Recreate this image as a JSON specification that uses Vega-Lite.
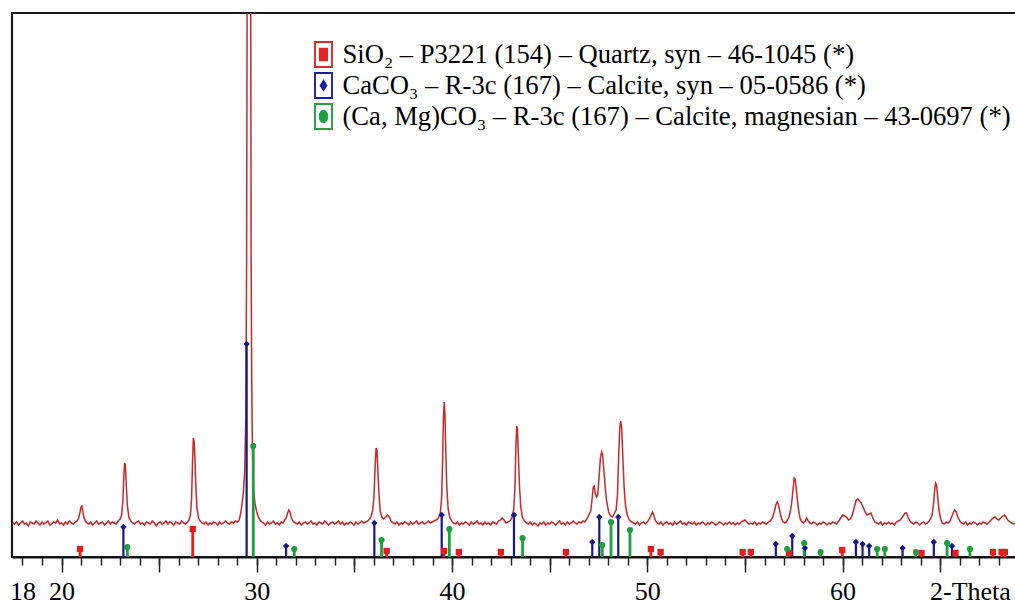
{
  "$schema": "https://vega.github.io/schema/vega-lite/v6.json",
  "width": 1005,
  "height": 544,
  "autosize": {"type": "none"},
  "padding": {"left": 12, "top": 13, "right": 0, "bottom": 48},
  "background": "white",
  "config": {"view": {"stroke": "#1a1a1a", "strokeWidth": 2.2}, "font": "Liberation Serif, Times New Roman, serif",
    "legend": {"labelFont": "Liberation Serif, Times New Roman, serif"}, "axis": {"labelFont": "Liberation Serif, Times New Roman, serif"}},
  "datasets": {
    "pattern": [
      {"t":17.5,"c":34},{"t":17.6,"c":33},{"t":17.7,"c":35},{"t":17.8,"c":32},{"t":17.9,"c":34},{"t":18.0,"c":36},{"t":18.1,"c":33},{"t":18.2,"c":34},{"t":18.3,"c":31},{"t":18.4,"c":35},
      {"t":18.5,"c":34},{"t":18.6,"c":33},{"t":18.7,"c":36},{"t":18.8,"c":34},{"t":18.9,"c":32},{"t":19.0,"c":35},{"t":19.1,"c":33},{"t":19.2,"c":34},{"t":19.3,"c":36},{"t":19.4,"c":32},
      {"t":19.5,"c":33},{"t":19.6,"c":35},{"t":19.7,"c":34},{"t":19.8,"c":37},{"t":19.9,"c":33},{"t":20.0,"c":34},{"t":20.1,"c":32},{"t":20.2,"c":35},{"t":20.3,"c":33},{"t":20.4,"c":36},
      {"t":20.5,"c":34},{"t":20.6,"c":33},{"t":20.7,"c":35},{"t":20.8,"c":36},{"t":20.88,"c":39},{"t":20.95,"c":45},{"t":21.0,"c":50},{"t":21.04,"c":51},{"t":21.08,"c":47},{"t":21.14,"c":40},
      {"t":21.22,"c":36},{"t":21.3,"c":34},{"t":21.4,"c":33},{"t":21.5,"c":35},{"t":21.6,"c":32},{"t":21.7,"c":34},{"t":21.8,"c":36},{"t":21.9,"c":33},{"t":22.0,"c":34},{"t":22.1,"c":35},
      {"t":22.2,"c":32},{"t":22.3,"c":34},{"t":22.4,"c":36},{"t":22.5,"c":33},{"t":22.6,"c":35},{"t":22.7,"c":34},{"t":22.8,"c":33},{"t":22.9,"c":36},{"t":23.0,"c":38},{"t":23.08,"c":42},
      {"t":23.14,"c":55},{"t":23.19,"c":80},{"t":23.23,"c":94},{"t":23.27,"c":92},{"t":23.31,"c":75},{"t":23.37,"c":52},{"t":23.45,"c":40},{"t":23.55,"c":36},{"t":23.65,"c":34},{"t":23.75,"c":33},
      {"t":23.85,"c":35},{"t":23.95,"c":36},{"t":24.05,"c":33},{"t":24.15,"c":34},{"t":24.25,"c":32},{"t":24.35,"c":35},{"t":24.45,"c":34},{"t":24.55,"c":33},{"t":24.65,"c":36},{"t":24.75,"c":34},
      {"t":24.85,"c":31},{"t":24.95,"c":34},{"t":25.05,"c":35},{"t":25.15,"c":33},{"t":25.25,"c":34},{"t":25.35,"c":36},{"t":25.45,"c":33},{"t":25.55,"c":35},{"t":25.65,"c":34},{"t":25.75,"c":32},
      {"t":25.85,"c":35},{"t":25.95,"c":34},{"t":26.05,"c":33},{"t":26.15,"c":36},{"t":26.25,"c":34},{"t":26.35,"c":33},{"t":26.45,"c":35},{"t":26.53,"c":37},{"t":26.6,"c":42},{"t":26.66,"c":58},
      {"t":26.71,"c":95},{"t":26.75,"c":119},{"t":26.79,"c":116},{"t":26.83,"c":100},{"t":26.88,"c":70},{"t":26.94,"c":48},{"t":27.02,"c":39},{"t":27.1,"c":36},{"t":27.2,"c":34},{"t":27.3,"c":33},
      {"t":27.4,"c":35},{"t":27.5,"c":32},{"t":27.6,"c":34},{"t":27.7,"c":33},{"t":27.8,"c":35},{"t":27.9,"c":34},{"t":28.0,"c":32},{"t":28.1,"c":35},{"t":28.2,"c":33},{"t":28.3,"c":34},
      {"t":28.4,"c":36},{"t":28.5,"c":34},{"t":28.6,"c":33},{"t":28.7,"c":35},{"t":28.8,"c":34},{"t":28.9,"c":36},{"t":29.0,"c":35},{"t":29.1,"c":37},{"t":29.18,"c":44},{"t":29.24,"c":52},
      {"t":29.31,"c":64},{"t":29.38,"c":85},{"t":29.44,"c":140},{"t":29.48,"c":300},{"t":29.52,"c":700},{"t":29.6,"c":1300},{"t":29.68,"c":700},{"t":29.71,"c":300},{"t":29.74,"c":180},{"t":29.77,"c":120},
      {"t":29.81,"c":75},{"t":29.86,"c":62},{"t":29.92,"c":52},{"t":30.0,"c":45},{"t":30.08,"c":40},{"t":30.16,"c":37},{"t":30.25,"c":35},{"t":30.35,"c":34},{"t":30.45,"c":32},{"t":30.55,"c":35},
      {"t":30.65,"c":33},{"t":30.75,"c":34},{"t":30.85,"c":36},{"t":30.95,"c":33},{"t":31.05,"c":34},{"t":31.15,"c":32},{"t":31.25,"c":35},{"t":31.35,"c":34},{"t":31.43,"c":37},{"t":31.5,"c":39},
      {"t":31.58,"c":44},{"t":31.64,"c":47},{"t":31.7,"c":45},{"t":31.78,"c":39},{"t":31.88,"c":35},{"t":31.98,"c":34},{"t":32.08,"c":33},{"t":32.18,"c":35},{"t":32.28,"c":32},{"t":32.38,"c":34},
      {"t":32.48,"c":35},{"t":32.58,"c":33},{"t":32.68,"c":34},{"t":32.78,"c":36},{"t":32.88,"c":33},{"t":32.98,"c":34},{"t":33.08,"c":32},{"t":33.18,"c":35},{"t":33.28,"c":34},{"t":33.38,"c":33},
      {"t":33.48,"c":36},{"t":33.58,"c":34},{"t":33.68,"c":32},{"t":33.78,"c":34},{"t":33.88,"c":35},{"t":33.98,"c":33},{"t":34.08,"c":34},{"t":34.18,"c":36},{"t":34.28,"c":33},{"t":34.38,"c":35},
      {"t":34.48,"c":32},{"t":34.58,"c":34},{"t":34.68,"c":33},{"t":34.78,"c":35},{"t":34.88,"c":34},{"t":34.98,"c":32},{"t":35.08,"c":35},{"t":35.18,"c":33},{"t":35.28,"c":34},{"t":35.38,"c":36},
      {"t":35.48,"c":34},{"t":35.58,"c":35},{"t":35.68,"c":36},{"t":35.78,"c":38},{"t":35.86,"c":41},{"t":35.93,"c":46},{"t":36.0,"c":60},{"t":36.06,"c":90},{"t":36.11,"c":109},{"t":36.15,"c":107},
      {"t":36.19,"c":92},{"t":36.25,"c":65},{"t":36.32,"c":46},{"t":36.4,"c":40},{"t":36.5,"c":38},{"t":36.6,"c":40},{"t":36.7,"c":42},{"t":36.78,"c":40},{"t":36.88,"c":36},{"t":36.98,"c":34},
      {"t":37.08,"c":33},{"t":37.18,"c":35},{"t":37.28,"c":32},{"t":37.38,"c":34},{"t":37.48,"c":33},{"t":37.58,"c":35},{"t":37.68,"c":34},{"t":37.78,"c":32},{"t":37.88,"c":35},{"t":37.98,"c":33},
      {"t":38.08,"c":34},{"t":38.18,"c":36},{"t":38.28,"c":33},{"t":38.38,"c":34},{"t":38.48,"c":35},{"t":38.58,"c":33},{"t":38.68,"c":34},{"t":38.78,"c":36},{"t":38.88,"c":34},{"t":38.98,"c":35},
      {"t":39.08,"c":36},{"t":39.18,"c":37},{"t":39.27,"c":38},{"t":39.34,"c":41},{"t":39.4,"c":44},{"t":39.47,"c":60},{"t":39.52,"c":100},{"t":39.56,"c":140},{"t":39.6,"c":155},{"t":39.64,"c":140},
      {"t":39.68,"c":105},{"t":39.73,"c":70},{"t":39.8,"c":48},{"t":39.88,"c":40},{"t":39.98,"c":36},{"t":40.08,"c":34},{"t":40.18,"c":33},{"t":40.28,"c":35},{"t":40.38,"c":32},{"t":40.48,"c":34},
      {"t":40.58,"c":33},{"t":40.68,"c":35},{"t":40.78,"c":34},{"t":40.88,"c":32},{"t":40.98,"c":35},{"t":41.08,"c":33},{"t":41.18,"c":34},{"t":41.28,"c":36},{"t":41.38,"c":33},{"t":41.48,"c":34},
      {"t":41.58,"c":32},{"t":41.68,"c":35},{"t":41.78,"c":33},{"t":41.88,"c":34},{"t":41.98,"c":32},{"t":42.08,"c":35},{"t":42.18,"c":34},{"t":42.28,"c":33},{"t":42.38,"c":36},{"t":42.48,"c":37},
      {"t":42.57,"c":39},{"t":42.66,"c":37},{"t":42.76,"c":34},{"t":42.86,"c":35},{"t":42.96,"c":36},{"t":43.04,"c":38},{"t":43.1,"c":42},{"t":43.16,"c":48},{"t":43.22,"c":70},{"t":43.27,"c":110},
      {"t":43.31,"c":131},{"t":43.35,"c":128},{"t":43.39,"c":105},{"t":43.45,"c":72},{"t":43.52,"c":50},{"t":43.6,"c":40},{"t":43.7,"c":36},{"t":43.8,"c":34},{"t":43.9,"c":33},{"t":44.0,"c":35},
      {"t":44.1,"c":32},{"t":44.2,"c":34},{"t":44.3,"c":33},{"t":44.4,"c":31},{"t":44.5,"c":34},{"t":44.6,"c":33},{"t":44.7,"c":35},{"t":44.8,"c":32},{"t":44.9,"c":34},{"t":45.0,"c":33},
      {"t":45.1,"c":35},{"t":45.2,"c":34},{"t":45.3,"c":32},{"t":45.4,"c":34},{"t":45.5,"c":36},{"t":45.6,"c":33},{"t":45.7,"c":34},{"t":45.8,"c":32},{"t":45.9,"c":35},{"t":46.0,"c":33},
      {"t":46.1,"c":34},{"t":46.2,"c":36},{"t":46.3,"c":34},{"t":46.4,"c":33},{"t":46.5,"c":35},{"t":46.6,"c":34},{"t":46.7,"c":36},{"t":46.8,"c":35},{"t":46.9,"c":38},{"t":47.0,"c":42},
      {"t":47.1,"c":46},{"t":47.17,"c":58},{"t":47.23,"c":70},{"t":47.28,"c":71},{"t":47.33,"c":64},{"t":47.4,"c":60},{"t":47.46,"c":62},{"t":47.53,"c":80},{"t":47.6,"c":100},{"t":47.66,"c":105},
      {"t":47.71,"c":102},{"t":47.77,"c":88},{"t":47.84,"c":70},{"t":47.92,"c":55},{"t":48.02,"c":45},{"t":48.12,"c":41},{"t":48.22,"c":40},{"t":48.32,"c":44},{"t":48.4,"c":47},{"t":48.47,"c":62},
      {"t":48.53,"c":100},{"t":48.59,"c":130},{"t":48.64,"c":136},{"t":48.69,"c":128},{"t":48.75,"c":98},{"t":48.81,"c":70},{"t":48.88,"c":52},{"t":48.97,"c":42},{"t":49.08,"c":37},{"t":49.2,"c":35},
      {"t":49.3,"c":34},{"t":49.4,"c":33},{"t":49.5,"c":35},{"t":49.6,"c":32},{"t":49.7,"c":34},{"t":49.8,"c":35},{"t":49.9,"c":33},{"t":50.0,"c":35},{"t":50.1,"c":38},{"t":50.2,"c":42},
      {"t":50.27,"c":45},{"t":50.34,"c":41},{"t":50.42,"c":36},{"t":50.5,"c":34},{"t":50.6,"c":33},{"t":50.7,"c":35},{"t":50.8,"c":32},{"t":50.9,"c":34},{"t":51.0,"c":35},{"t":51.1,"c":33},
      {"t":51.2,"c":34},{"t":51.3,"c":32},{"t":51.4,"c":35},{"t":51.5,"c":33},{"t":51.6,"c":34},{"t":51.7,"c":36},{"t":51.8,"c":33},{"t":51.9,"c":34},{"t":52.0,"c":32},{"t":52.1,"c":35},
      {"t":52.2,"c":34},{"t":52.3,"c":33},{"t":52.4,"c":35},{"t":52.5,"c":32},{"t":52.6,"c":34},{"t":52.7,"c":33},{"t":52.8,"c":35},{"t":52.9,"c":34},{"t":53.0,"c":32},{"t":53.1,"c":34},
      {"t":53.2,"c":33},{"t":53.3,"c":35},{"t":53.4,"c":34},{"t":53.5,"c":32},{"t":53.6,"c":33},{"t":53.7,"c":35},{"t":53.8,"c":34},{"t":53.9,"c":32},{"t":54.0,"c":34},{"t":54.1,"c":33},
      {"t":54.2,"c":35},{"t":54.3,"c":33},{"t":54.4,"c":34},{"t":54.5,"c":32},{"t":54.6,"c":34},{"t":54.7,"c":33},{"t":54.8,"c":35},{"t":54.9,"c":36},{"t":55.0,"c":37},{"t":55.1,"c":35},
      {"t":55.2,"c":33},{"t":55.3,"c":34},{"t":55.4,"c":33},{"t":55.5,"c":35},{"t":55.6,"c":32},{"t":55.7,"c":34},{"t":55.8,"c":33},{"t":55.9,"c":35},{"t":56.0,"c":34},{"t":56.1,"c":33},
      {"t":56.2,"c":35},{"t":56.3,"c":36},{"t":56.4,"c":39},{"t":56.5,"c":45},{"t":56.58,"c":52},{"t":56.65,"c":55},{"t":56.72,"c":52},{"t":56.8,"c":44},{"t":56.88,"c":38},{"t":56.95,"c":35},
      {"t":57.05,"c":34},{"t":57.15,"c":36},{"t":57.25,"c":40},{"t":57.32,"c":45},{"t":57.39,"c":54},{"t":57.46,"c":67},{"t":57.52,"c":79},{"t":57.57,"c":78},{"t":57.62,"c":70},{"t":57.68,"c":58},
      {"t":57.75,"c":46},{"t":57.83,"c":38},{"t":57.92,"c":35},{"t":58.0,"c":34},{"t":58.08,"c":36},{"t":58.16,"c":39},{"t":58.24,"c":36},{"t":58.32,"c":34},{"t":58.4,"c":33},{"t":58.5,"c":35},
      {"t":58.6,"c":34},{"t":58.7,"c":32},{"t":58.8,"c":34},{"t":58.9,"c":33},{"t":59.0,"c":35},{"t":59.1,"c":34},{"t":59.2,"c":32},{"t":59.3,"c":34},{"t":59.4,"c":33},{"t":59.5,"c":35},
      {"t":59.6,"c":34},{"t":59.7,"c":33},{"t":59.8,"c":36},{"t":59.9,"c":39},{"t":60.0,"c":42},{"t":60.1,"c":41},{"t":60.2,"c":40},{"t":60.3,"c":37},{"t":60.4,"c":38},{"t":60.5,"c":42},
      {"t":60.6,"c":50},{"t":60.7,"c":57},{"t":60.78,"c":58},{"t":60.86,"c":56},{"t":60.95,"c":54},{"t":61.05,"c":50},{"t":61.15,"c":45},{"t":61.25,"c":42},{"t":61.35,"c":43},{"t":61.45,"c":44},
      {"t":61.55,"c":39},{"t":61.65,"c":35},{"t":61.75,"c":34},{"t":61.85,"c":33},{"t":61.95,"c":35},{"t":62.05,"c":32},{"t":62.15,"c":34},{"t":62.25,"c":33},{"t":62.35,"c":35},{"t":62.45,"c":33},
      {"t":62.55,"c":34},{"t":62.65,"c":32},{"t":62.75,"c":35},{"t":62.85,"c":36},{"t":62.95,"c":37},{"t":63.03,"c":39},{"t":63.1,"c":41},{"t":63.2,"c":44},{"t":63.27,"c":44},{"t":63.35,"c":40},
      {"t":63.45,"c":36},{"t":63.55,"c":34},{"t":63.65,"c":33},{"t":63.75,"c":35},{"t":63.85,"c":34},{"t":63.95,"c":32},{"t":64.05,"c":34},{"t":64.15,"c":35},{"t":64.25,"c":33},{"t":64.35,"c":34},
      {"t":64.43,"c":36},{"t":64.5,"c":38},{"t":64.58,"c":42},{"t":64.65,"c":52},{"t":64.71,"c":66},{"t":64.76,"c":74},{"t":64.81,"c":72},{"t":64.87,"c":60},{"t":64.94,"c":46},{"t":65.02,"c":38},
      {"t":65.1,"c":34},{"t":65.2,"c":33},{"t":65.3,"c":35},{"t":65.4,"c":34},{"t":65.5,"c":36},{"t":65.58,"c":40},{"t":65.66,"c":44},{"t":65.74,"c":47},{"t":65.82,"c":45},{"t":65.9,"c":40},
      {"t":66.0,"c":36},{"t":66.1,"c":34},{"t":66.2,"c":33},{"t":66.3,"c":35},{"t":66.4,"c":32},{"t":66.5,"c":34},{"t":66.6,"c":33},{"t":66.7,"c":35},{"t":66.8,"c":34},{"t":66.9,"c":32},
      {"t":67.0,"c":34},{"t":67.1,"c":33},{"t":67.2,"c":35},{"t":67.3,"c":34},{"t":67.4,"c":33},{"t":67.5,"c":35},{"t":67.6,"c":37},{"t":67.7,"c":39},{"t":67.8,"c":40},{"t":67.9,"c":38},
      {"t":68.0,"c":37},{"t":68.1,"c":39},{"t":68.2,"c":41},{"t":68.28,"c":42},{"t":68.36,"c":40},{"t":68.46,"c":37},{"t":68.56,"c":35},{"t":68.66,"c":34},{"t":68.76,"c":33},{"t":68.86,"c":34},
      {"t":68.95,"c":33}
    ],
    "sticks": [
      {"p":"Q","t":20.95,"h":8},{"p":"Q","t":26.72,"h":28},{"p":"Q","t":36.65,"h":6},{"p":"Q","t":39.59,"h":6},{"p":"Q","t":40.35,"h":5},{"p":"Q","t":42.5,"h":5},
      {"p":"Q","t":45.83,"h":5},{"p":"Q","t":50.18,"h":8},{"p":"Q","t":50.68,"h":5},{"p":"Q","t":54.88,"h":5},{"p":"Q","t":55.3,"h":5},{"p":"Q","t":57.27,"h":4},
      {"p":"Q","t":59.98,"h":7},{"p":"Q","t":64.04,"h":4},{"p":"Q","t":65.78,"h":4},{"p":"Q","t":67.7,"h":5},{"p":"Q","t":68.14,"h":5},{"p":"Q","t":68.31,"h":5},
      {"p":"C","t":23.17,"h":30},{"p":"C","t":29.48,"h":213},{"p":"C","t":31.5,"h":11},{"p":"C","t":36.02,"h":34},{"p":"C","t":39.47,"h":42},{"p":"C","t":43.17,"h":42},
      {"p":"C","t":47.18,"h":15},{"p":"C","t":47.54,"h":40},{"p":"C","t":48.51,"h":40},{"p":"C","t":56.58,"h":13},{"p":"C","t":57.42,"h":21},{"p":"C","t":58.07,"h":9},
      {"p":"C","t":60.68,"h":15},{"p":"C","t":61.02,"h":13},{"p":"C","t":61.36,"h":11},{"p":"C","t":63.07,"h":9},{"p":"C","t":64.67,"h":15},{"p":"C","t":65.6,"h":11},
      {"p":"M","t":23.37,"h":10},{"p":"M","t":29.82,"h":111},{"p":"M","t":31.92,"h":8},{"p":"M","t":36.39,"h":17},{"p":"M","t":39.86,"h":28},{"p":"M","t":43.61,"h":19},
      {"p":"M","t":47.69,"h":12},{"p":"M","t":48.14,"h":35},{"p":"M","t":49.11,"h":27},{"p":"M","t":57.16,"h":8},{"p":"M","t":58.03,"h":14},{"p":"M","t":58.87,"h":5},
      {"p":"M","t":61.77,"h":8},{"p":"M","t":62.16,"h":8},{"p":"M","t":63.75,"h":5},{"p":"M","t":65.35,"h":14},{"p":"M","t":66.52,"h":8}
    ],
    "phases": [{"p":"Q"},{"p":"C"},{"p":"M"}]
  },
  "resolve": {"axis": {"x": "independent"}},
  "layer": [
    {
      "data": {"name": "pattern"},
      "mark": {"type": "line", "color": "#c8282a", "strokeWidth": 1.5, "clip": true},
      "encoding": {
        "x": {"field": "t", "type": "quantitative", "scale": {"domain": [17.465, 68.93], "nice": false, "zero": false},
          "axis": {"orient": "bottom", "values": [18,19,20,21,22,23,24,25,26,27,28,29,30,31,32,33,34,35,36,37,38,39,40,41,42,43,44,45,46,47,48,49,50,51,52,53,54,55,56,57,58,59,60,61,62,63,64,65,66,67,68],
            "tickSize": 8, "tickWidth": 1.5, "tickColor": "#222", "labels": false, "domain": true, "domainColor": "#111", "domainWidth": 2.2, "grid": false, "title": null}},
        "y": {"field": "c", "type": "quantitative", "scale": {"domain": [0, 544], "nice": false, "zero": false}, "axis": null}
      }
    },
    {
      "data": {"name": "sticks"},
      "transform": [{"filter": "datum.p == 'Q'"}],
      "mark": {"type": "rule", "color": "#e01e1e", "strokeWidth": 2.8},
      "encoding": {
        "x": {"field": "t", "type": "quantitative", "scale": {"domain": [17.465, 68.93], "nice": false, "zero": false},
          "axis": {"orient": "bottom", "values": [20,25,30,35,40,45,50,55,60,65], "tickSize": 15, "tickWidth": 1.5, "tickColor": "#222", "labels": false, "domain": false, "grid": false, "title": null}},
        "y": {"field": "h", "type": "quantitative", "scale": {"domain": [0, 544], "nice": false, "zero": false}, "axis": null},
        "y2": {"datum": 0}
      }
    },
    {
      "data": {"name": "sticks"},
      "transform": [{"filter": "datum.p == 'C'"}],
      "mark": {"type": "rule", "color": "#16168e", "strokeWidth": 2.2},
      "encoding": {
        "x": {"field": "t", "type": "quantitative", "scale": {"domain": [17.465, 68.93], "nice": false, "zero": false}, "axis": null},
        "y": {"field": "h", "type": "quantitative", "scale": {"domain": [0, 544], "nice": false, "zero": false}, "axis": null},
        "y2": {"datum": 0}
      }
    },
    {
      "data": {"name": "sticks"},
      "transform": [{"filter": "datum.p == 'M'"}],
      "mark": {"type": "rule", "color": "#1e9e3c", "strokeWidth": 2.8},
      "encoding": {
        "x": {"field": "t", "type": "quantitative", "scale": {"domain": [17.465, 68.93], "nice": false, "zero": false}, "axis": null},
        "y": {"field": "h", "type": "quantitative", "scale": {"domain": [0, 544], "nice": false, "zero": false}, "axis": null},
        "y2": {"datum": 0}
      }
    },
    {
      "data": {"name": "sticks"},
      "transform": [{"filter": "datum.p == 'Q'"}],
      "mark": {"type": "point", "shape": "square", "filled": true, "color": "#e01e1e", "size": 40, "opacity": 1},
      "encoding": {
        "x": {"field": "t", "type": "quantitative", "scale": {"domain": [17.465, 68.93], "nice": false, "zero": false},
          "axis": {"orient": "bottom", "values": [18,20,30,40,50,60,66.52], "ticks": false, "tickSize": 0, "domain": false, "grid": false, "title": null,
            "labelExpr": "datum.value > 66 ? '2-Theta' : datum.label", "labelFont": "Liberation Serif, Times New Roman, serif", "labelFontSize": 26, "labelColor": "#000",
            "labelPadding": 21, "labelOverlap": false, "labelFlush": false, "labelBound": false}},
        "y": {"field": "h", "type": "quantitative", "scale": {"domain": [0, 544], "nice": false, "zero": false}, "axis": null}
      }
    },
    {
      "data": {"name": "sticks"},
      "transform": [{"filter": "datum.p == 'C'"}],
      "mark": {"type": "point", "shape": "diamond", "filled": true, "color": "#16168e", "size": 40, "opacity": 1},
      "encoding": {
        "x": {"field": "t", "type": "quantitative", "scale": {"domain": [17.465, 68.93], "nice": false, "zero": false}, "axis": null},
        "y": {"field": "h", "type": "quantitative", "scale": {"domain": [0, 544], "nice": false, "zero": false}, "axis": null}
      }
    },
    {
      "data": {"name": "sticks"},
      "transform": [{"filter": "datum.p == 'M'"}],
      "mark": {"type": "point", "shape": "circle", "filled": true, "color": "#1e9e3c", "size": 38, "opacity": 1},
      "encoding": {
        "x": {"field": "t", "type": "quantitative", "scale": {"domain": [17.465, 68.93], "nice": false, "zero": false}, "axis": null},
        "y": {"field": "h", "type": "quantitative", "scale": {"domain": [0, 544], "nice": false, "zero": false}, "axis": null}
      }
    },
    {
      "data": {"name": "phases"},
      "mark": {"type": "point", "filled": true, "opacity": 0},
      "encoding": {
        "color": {"field": "p", "type": "nominal",
          "scale": {"domain": ["Q", "C", "M"], "range": ["#e02828", "#1c1caa", "#20a040"]},
          "legend": {"orient": "none", "legendX": 298, "legendY": 28, "direction": "vertical", "title": null, "padding": 0,
            "labelFont": "Liberation Serif, Times New Roman, serif", "labelFontSize": 26.6, "labelColor": "#000", "labelLimit": 0, "labelOffset": 5.5, "rowPadding": 3,
            "symbolSize": 729, "symbolStrokeWidth": 0, "symbolOpacity": 1,
            "labelExpr": "datum.value == 'Q' ? 'SiO₂ – P3221 (154) – Quartz, syn – 46-1045 (*)' : datum.value == 'C' ? 'CaCO₃ – R-3c (167) – Calcite, syn – 05-0586 (*)' : '(Ca, Mg)CO₃ – R-3c (167) – Calcite, magnesian – 43-0697 (*)'"}},
        "shape": {"field": "p", "type": "nominal",
          "scale": {"domain": ["Q", "C", "M"], "range": [
            "M-0.7,-1L0.7,-1L0.7,1L-0.7,1ZM-0.56,-0.86L-0.56,0.86L0.56,0.86L0.56,-0.86ZM-0.34,-0.5L0.34,-0.5L0.34,0.5L-0.34,0.5Z",
            "M-0.7,-1L0.7,-1L0.7,1L-0.7,1ZM-0.56,-0.86L-0.56,0.86L0.56,0.86L0.56,-0.86ZM0,-0.46L0.29,0L0,0.46L-0.29,0Z",
            "M-0.7,-1L0.7,-1L0.7,1L-0.7,1ZM-0.56,-0.86L-0.56,0.86L0.56,0.86L0.56,-0.86ZM0,-0.5A0.35,0.5 0 1 1 0,0.5A0.35,0.5 0 1 1 0,-0.5Z"
          ]},
          "legend": {"orient": "none", "legendX": 298, "legendY": 28, "direction": "vertical", "title": null, "padding": 0,
            "labelFont": "Liberation Serif, Times New Roman, serif", "labelFontSize": 26.6, "labelColor": "#000", "labelLimit": 0, "labelOffset": 5.5, "rowPadding": 3,
            "symbolSize": 729, "symbolStrokeWidth": 0, "symbolOpacity": 1,
            "labelExpr": "datum.value == 'Q' ? 'SiO₂ – P3221 (154) – Quartz, syn – 46-1045 (*)' : datum.value == 'C' ? 'CaCO₃ – R-3c (167) – Calcite, syn – 05-0586 (*)' : '(Ca, Mg)CO₃ – R-3c (167) – Calcite, magnesian – 43-0697 (*)'"}}
      }
    }
  ]
}
